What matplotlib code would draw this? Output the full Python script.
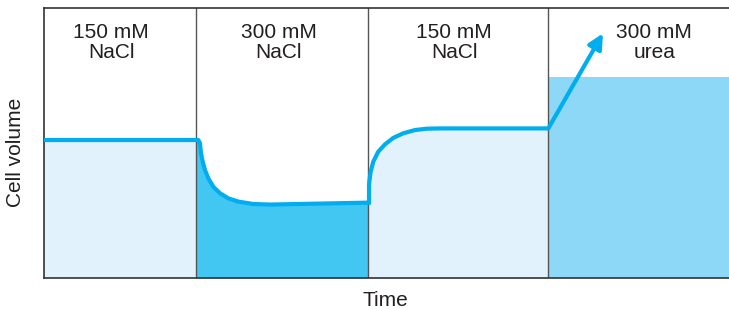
import numpy as np
import matplotlib.pyplot as plt

plt.rcParams['font.family'] = ['Liberation Sans', 'DejaVu Sans']

# Phasengrenzen (Zeit, willkürliche Einheiten)
grenzen = [0.0, 2.22, 4.73, 7.36, 10.0]
beschriftungen = ['150 mM\nNaCl', '300 mM\nNaCl', '150 mM\nNaCl', '300 mM\nurea']
label_x = [0.98, 3.43, 5.99, 8.91]

# Zellvolumen-Verlauf
zeit = [0.0, 2.22, 2.253, 2.277, 2.292, 2.317, 2.350, 2.399, 2.472, 2.569, 2.691,
        2.836, 3.055, 3.299, 4.711, 4.745,
        4.745, 4.749, 4.769, 4.807, 4.880, 4.978, 5.099, 5.245, 5.416, 5.587,
        5.781, 7.362]
volumen = [51.1, 51.1, 51.1, 49.9, 46.2, 43.1, 40.0, 36.9, 33.8, 31.4, 29.5,
           28.3, 27.4, 27.2, 27.9, 27.7,
           34.4, 35.7, 39.4, 43.1, 46.8, 49.5, 51.9, 53.6, 54.8, 55.3,
           55.4, 55.4]
pfeil_start = (7.362, 55.4)
pfeil_ende = (8.16, 90.6)
harnstoff_niveau = 74.4

# Farben
hell = '#E1F2FC'
dunkel = '#42C7F3'
harnstoff = '#8ED8F7'
linie = '#00AEEF'
text_farbe = '#231F20'

zeit = np.array(zeit)
volumen = np.array(volumen)

fig = plt.figure(figsize=(7.29, 3.09), dpi=100)
ax = fig.add_axes([44 / 729, 31 / 309, 685 / 729, 270 / 309])

# Flächen je Phase
for i, farbe in enumerate([hell, dunkel, hell]):
    a, b = grenzen[i], grenzen[i + 1]
    m = (zeit >= a) & (zeit <= b)
    t = np.concatenate([[a], zeit[m], [b]])
    v = np.concatenate([[volumen[m][0]], volumen[m], [volumen[m][-1]]])
    ax.fill_between(t, 0, v, color=farbe, lw=0, zorder=1)
ax.fill_between([grenzen[3], grenzen[4]], 0, harnstoff_niveau, color=harnstoff, lw=0, zorder=1)

# Trennlinien
for g in grenzen[1:-1]:
    ax.axvline(g, color='#555555', lw=1.0, zorder=2)

# Kurve
ax.plot(zeit, volumen, color=linie, lw=3, solid_capstyle='butt', solid_joinstyle='round', zorder=3)
ax.annotate('', xy=pfeil_ende, xytext=pfeil_start,
            arrowprops=dict(arrowstyle='-|>', lw=3, color=linie, mutation_scale=22,
                            shrinkA=0, shrinkB=0), zorder=4)

for x, s in zip(label_x, beschriftungen):
    ax.text(x, 87.2, s, ha='center', va='center', fontsize=15, color=text_farbe,
            linespacing=1.12)

ax.set_xlim(0, 10)
ax.set_ylim(0, 100)
ax.set_xticks([])
ax.set_yticks([])
ax.spines['right'].set_visible(False)
for s in ['left', 'bottom', 'top']:
    ax.spines[s].set_color('#333333')
    ax.spines[s].set_linewidth(1.2)

fig.text(385 / 729, 1 - 300 / 309, 'Time', ha='center', va='center', fontsize=15, color=text_farbe)
fig.text(16 / 729, 1 - 152 / 309, 'Cell volume', ha='center', va='center', rotation=90,
         fontsize=15, color=text_farbe)

fig.savefig('out.png', dpi=100)
